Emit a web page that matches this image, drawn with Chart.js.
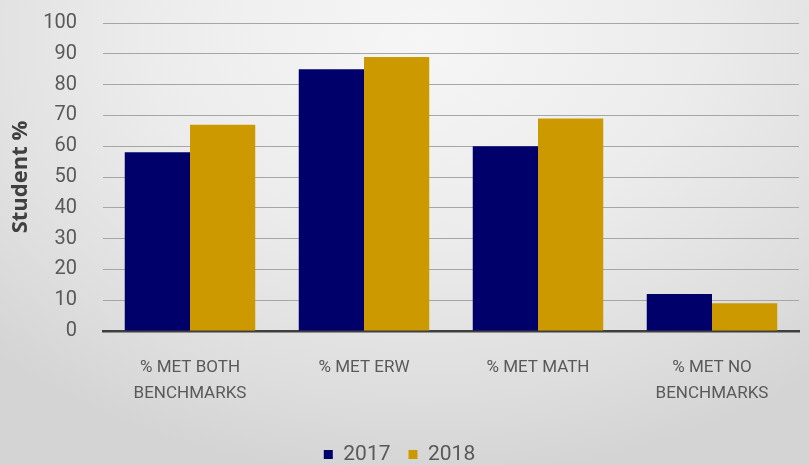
<!DOCTYPE html>
<html lang="en">
<head>
  <meta charset="UTF-8">
  <title>Student % by benchmark</title>
  <script src="https://cdn.jsdelivr.net/npm/chart.js"></script>
  <style>
    * { box-sizing: border-box; margin:0; padding:0; }
    html, body { width:809px; height:465px; overflow:hidden; }
    body {
      background: radial-gradient(ellipse 75% 95% at 52% 8%, #f6f6f6 0%, #ececec 45%, #dedede 80%, #d4d4d4 100%);
    }
    #wrap { position:relative; width:809px; height:465px; }
  </style>
</head>
<body>
<div id="wrap"><canvas id="grafica" width="809" height="465"></canvas></div>

<script>
const categorias = [
  ['% MET BOTH', 'BENCHMARKS'],
  '% MET ERW',
  '% MET MATH',
  ['% MET NO', 'BENCHMARKS']
];
const valores2017 = [58, 85, 60, 12];
const valores2018 = [67, 89, 69, 9];
const series = ['2017', '2018'];

const fuente = "Roboto, 'Open Sans', sans-serif";
const gris = '#595959';

new Chart(document.getElementById('grafica'), {
  type: 'bar',
  data: {
    labels: categorias,
    datasets: [
      { label: series[0], data: valores2017, backgroundColor: '#00006b' },
      { label: series[1], data: valores2018, backgroundColor: '#cc9a00' }
    ]
  },
  options: {
    responsive: false,
    animation: false,
    // negative bottom lets the legend sit closer to the lower edge
    layout: { padding: { top: 23, right: 10, left: 0, bottom: -10 } },
    datasets: { bar: { categoryPercentage: 0.75, barPercentage: 1 } },
    plugins: {
      tooltip: { enabled: false },
      legend: {
        position: 'bottom',
        labels: {
          color: gris,
          font: { family: fuente, size: 21 },
          boxWidth: 9, boxHeight: 9,
          padding: 18
        }
      }
    },
    scales: {
      x: {
        grid: { display: false },
        border: { color: '#3f3f3f', width: 2.5 },
        ticks: {
          color: gris,
          font: { family: fuente, size: 17, lineHeight: 1.5 },
          padding: 16,
          maxRotation: 0, autoSkip: false
        },
        afterFit: s => { s.height = 95; }
      },
      y: {
        min: 0, max: 100,
        ticks: {
          stepSize: 10,
          color: gris,
          font: { family: fuente, size: 20 },
          padding: 4
        },
        // ticks kept invisible, only to push the labels left of the plot
        grid: { color: '#a6a6a6', lineWidth: 1, tickLength: 22, tickColor: 'transparent' },
        border: { display: false },
        title: {
          display: true,
          text: 'Student %',
          color: '#404040',
          font: { family: "'Open Sans', sans-serif", size: 22, weight: 'bold' },
          padding: { top: 8, bottom: 0 }
        },
        afterFit: s => { s.width = 103; }
      }
    }
  }
});
</script>
</body>
</html>
